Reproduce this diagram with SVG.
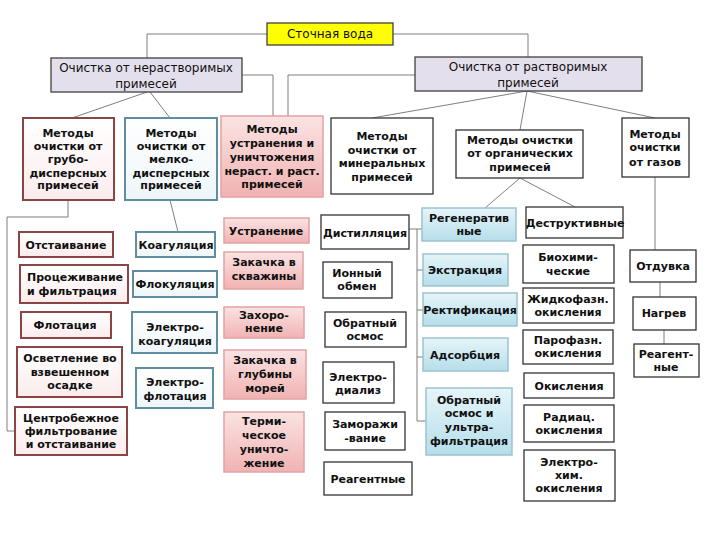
<svg xmlns="http://www.w3.org/2000/svg" width="720" height="540" viewBox="0 0 720 540">
<defs>
<linearGradient id="gPink" x1="0" y1="0" x2="0" y2="1"><stop offset="0" stop-color="#fbe3e3"/><stop offset="1" stop-color="#f1b2b2"/></linearGradient>
<linearGradient id="gBlue" x1="0" y1="0" x2="0" y2="1"><stop offset="0" stop-color="#e6f5f9"/><stop offset="1" stop-color="#b5deea"/></linearGradient>
<linearGradient id="gCoarse" x1="0" y1="0" x2="0" y2="1"><stop offset="0" stop-color="#ffffff"/><stop offset="1" stop-color="#fbecec"/></linearGradient>
<linearGradient id="gFine" x1="0" y1="0" x2="0" y2="1"><stop offset="0" stop-color="#ffffff"/><stop offset="1" stop-color="#eef6f9"/></linearGradient>
</defs>
<style>
text{font-family:"DejaVu Sans","Noto Sans",sans-serif;font-size:11px;font-weight:bold;fill:#111;text-anchor:middle;dominant-baseline:central}
text.top{font-size:12px;font-weight:normal}
.dark{fill:#ffffff;stroke:#333333;stroke-width:1.3}
.coarse{fill:url(#gCoarse);stroke:#8b4545;stroke-width:2}
.fine{fill:url(#gFine);stroke:#5f8ea3;stroke-width:2}
.pink{fill:url(#gPink);stroke:#e2a3a3;stroke-width:1.5}
.blue{fill:url(#gBlue);stroke:#9dc2cf;stroke-width:1.5}
.lav{fill:#e4dfec;stroke:#404040;stroke-width:1.3}
.yel{fill:#ffff00;stroke:#404040;stroke-width:1.3}
#connectors path{fill:none;stroke:#7f7f7f;stroke-width:1}
</style>
<rect width="720" height="540" fill="#ffffff"/>
<g id="connectors">
<path d="M267,34 H147 V58"/>
<path d="M393,34 H528 V57"/>
<path d="M242,75 H273 V116"/>
<path d="M415,75 H288 V116"/>
<path d="M147,92 L72,118"/>
<path d="M150,92 L170,118"/>
<path d="M527,91 L372,118"/>
<path d="M527,91 L520,130"/>
<path d="M527,91 L655,118"/>
<path d="M520,178 L485,208"/>
<path d="M520,178 L575,207"/>
<path d="M655,177 V250"/>
<path d="M660,282 V297"/>
<path d="M664,330 V344"/>
<path d="M68,200 V217 H7 V431 H15"/>
<path d="M170,200 L178,232"/>
<path d="M409,229 H422 M417,229 V421 H426 M417,270 H423 M417,310 H423 M417,357 H423"/>
</g>
<g id="n-water"><rect class="yel" x="267" y="23" width="126" height="22"/><text class="top" x="330" y="34">Сточная вода</text></g>
<g id="n-insol"><rect class="lav" x="51" y="58" width="191" height="34"/><text class="top" x="146" y="68">Очистка от нерастворимых</text><text class="top" x="146" y="84">примесей</text></g>
<g id="n-sol"><rect class="lav" x="415" y="57" width="227" height="34"/><text class="top" x="528" y="67">Очистка от растворимых</text><text class="top" x="528" y="83">примесей</text></g>
<g id="n-coarse"><rect class="coarse" x="23" y="118" width="91" height="82"/><text x="68" y="133">Методы</text><text x="68" y="146">очистки от</text><text x="68" y="159">грубо-</text><text x="68" y="173">дисперсных</text><text x="68" y="185">примесей</text></g>
<g id="n-fine"><rect class="fine" x="125" y="118" width="92" height="82"/><text x="171" y="133">Методы</text><text x="171" y="146">очистки от</text><text x="171" y="159">мелко-</text><text x="171" y="173">дисперсных</text><text x="171" y="185">примесей</text></g>
<g id="n-elim"><rect class="pink" x="221" y="116" width="102" height="81"/><text x="272" y="129">Методы</text><text x="272" y="143">устранения и</text><text x="272" y="157">уничтожения</text><text x="272" y="171">нераст. и раст.</text><text x="272" y="184">примесей</text></g>
<g id="n-mineral"><rect class="dark" x="331" y="118" width="102" height="76"/><text x="382" y="136">Методы</text><text x="382" y="150">очистки от</text><text x="382" y="163">минеральных</text><text x="382" y="177">примесей</text></g>
<g id="n-organic"><rect class="dark" x="456" y="130" width="127" height="48"/><text x="520" y="140">Методы очистки</text><text x="520" y="153">от органических</text><text x="520" y="167">примесей</text></g>
<g id="n-gases"><rect class="dark" x="622" y="118" width="67" height="59"/><text x="655" y="134">Методы</text><text x="655" y="147">очистки</text><text x="655" y="162">от газов</text></g>

<g id="n-otstaivanie"><rect class="coarse" x="19" y="232" width="94" height="25"/><text x="66" y="245">Отстаивание</text></g>
<g id="n-procezh"><rect class="coarse" x="20" y="265" width="108" height="38"/><text x="27" y="277" style="text-anchor:start">Процеживание</text><text x="27" y="291" style="text-anchor:start">и фильтрация</text></g>
<g id="n-flotaciya"><rect class="coarse" x="21" y="312" width="90" height="26"/><text x="65" y="325">Флотация</text></g>
<g id="n-osvetlenie"><rect class="coarse" x="17" y="347" width="105" height="50"/><text x="70" y="358">Осветление во</text><text x="70" y="372">взвешенном</text><text x="70" y="385">осадке</text></g>
<g id="n-centrob"><rect class="coarse" x="15" y="407" width="112" height="48"/><text x="71" y="418">Центробежное</text><text x="71" y="431">фильтрование</text><text x="71" y="444">и отстаивание</text></g>

<g id="n-koag"><rect class="fine" x="136" y="232" width="79" height="25"/><text x="176" y="245">Коагуляция</text></g>
<g id="n-flok"><rect class="fine" x="133" y="271" width="84" height="26"/><text x="175" y="284">Флокуляция</text></g>
<g id="n-elkoag"><rect class="fine" x="132" y="312" width="85" height="41"/><text x="175" y="327">Электро-</text><text x="175" y="341">коагуляция</text></g>
<g id="n-elflot"><rect class="fine" x="136" y="368" width="77" height="40"/><text x="175" y="382">Электро-</text><text x="175" y="396">флотация</text></g>

<g id="n-ustranenie"><rect class="pink" x="224" y="218" width="85" height="25"/><text x="266" y="231">Устранение</text></g>
<g id="n-skvazhiny"><rect class="pink" x="224" y="252" width="79" height="37"/><text x="264" y="262">Закачка в</text><text x="264" y="276">скважины</text></g>
<g id="n-zahoron"><rect class="pink" x="224" y="307" width="80" height="31"/><text x="264" y="315">Захоро-</text><text x="264" y="328">нение</text></g>
<g id="n-morey"><rect class="pink" x="224" y="350" width="82" height="49"/><text x="265" y="360">Закачка в</text><text x="265" y="374">глубины</text><text x="265" y="388">морей</text></g>
<g id="n-termich"><rect class="pink" x="224" y="412" width="80" height="60"/><text x="264" y="421">Терми-</text><text x="264" y="435">ческое</text><text x="264" y="449">уничто-</text><text x="264" y="463">жение</text></g>

<g id="n-distill"><rect class="dark" x="321" y="215" width="88" height="34"/><text x="365" y="233">Дистилляция</text></g>
<g id="n-ionny"><rect class="dark" x="323" y="262" width="69" height="36"/><text x="357" y="273">Ионный</text><text x="357" y="286">обмен</text></g>
<g id="n-obrosm1"><rect class="dark" x="325" y="312" width="81" height="35"/><text x="365" y="323">Обратный</text><text x="365" y="336">осмос</text></g>
<g id="n-eldializ"><rect class="dark" x="323" y="362" width="71" height="41"/><text x="358" y="377">Электро-</text><text x="358" y="390">диализ</text></g>
<g id="n-zamor"><rect class="dark" x="325" y="412" width="80" height="38"/><text x="365" y="424">Заморажи</text><text x="365" y="438">-вание</text></g>
<g id="n-reag1"><rect class="dark" x="324" y="462" width="88" height="33"/><text x="368" y="479">Реагентные</text></g>

<g id="n-regen"><rect class="blue" x="422" y="208" width="94" height="33"/><text x="469" y="218">Регенератив</text><text x="469" y="231.5">ные</text></g>
<g id="n-ekstr"><rect class="blue" x="423" y="254" width="85" height="32"/><text x="465" y="270">Экстракция</text></g>
<g id="n-rekt"><rect class="blue" x="423" y="293" width="94" height="33"/><text x="470" y="310">Ректификация</text></g>
<g id="n-adsorb"><rect class="blue" x="423" y="338" width="85" height="33"/><text x="465" y="355">Адсорбция</text></g>
<g id="n-obrosm2"><rect class="blue" x="426" y="388" width="86" height="67"/><text x="469" y="400">Обратный</text><text x="469" y="413">осмос и</text><text x="469" y="427">ультра-</text><text x="469" y="441">фильтрация</text></g>

<g id="n-destr"><rect class="dark" x="526" y="207" width="97" height="31"/><text x="575" y="223">Деструктивные</text></g>
<g id="n-biohim"><rect class="dark" x="523" y="245" width="91" height="38"/><text x="568" y="257">Биохими-</text><text x="568" y="271">ческие</text></g>
<g id="n-zhidk"><rect class="dark" x="523" y="288" width="91" height="35"/><text x="568" y="299">Жидкофазн.</text><text x="568" y="312">окисления</text></g>
<g id="n-parof"><rect class="dark" x="523" y="330" width="90" height="34"/><text x="568" y="340">Парофазн.</text><text x="568" y="353">окисления</text></g>
<g id="n-okisl"><rect class="dark" x="524" y="373" width="90" height="25"/><text x="569" y="386">Окисления</text></g>
<g id="n-radiac"><rect class="dark" x="524" y="405" width="90" height="37"/><text x="569" y="417">Радиац.</text><text x="569" y="430">окисления</text></g>
<g id="n-elhim"><rect class="dark" x="524" y="450" width="91" height="51"/><text x="569" y="462">Электро-</text><text x="569" y="475">хим.</text><text x="569" y="488">окисления</text></g>

<g id="n-otduvka"><rect class="dark" x="630" y="250" width="66" height="32"/><text x="663" y="266">Отдувка</text></g>
<g id="n-nagrev"><rect class="dark" x="633" y="297" width="63" height="33"/><text x="664" y="313">Нагрев</text></g>
<g id="n-reag2"><rect class="dark" x="634" y="344" width="65" height="33"/><text x="666" y="354">Реагент-</text><text x="666" y="367">ные</text></g>
</svg>
